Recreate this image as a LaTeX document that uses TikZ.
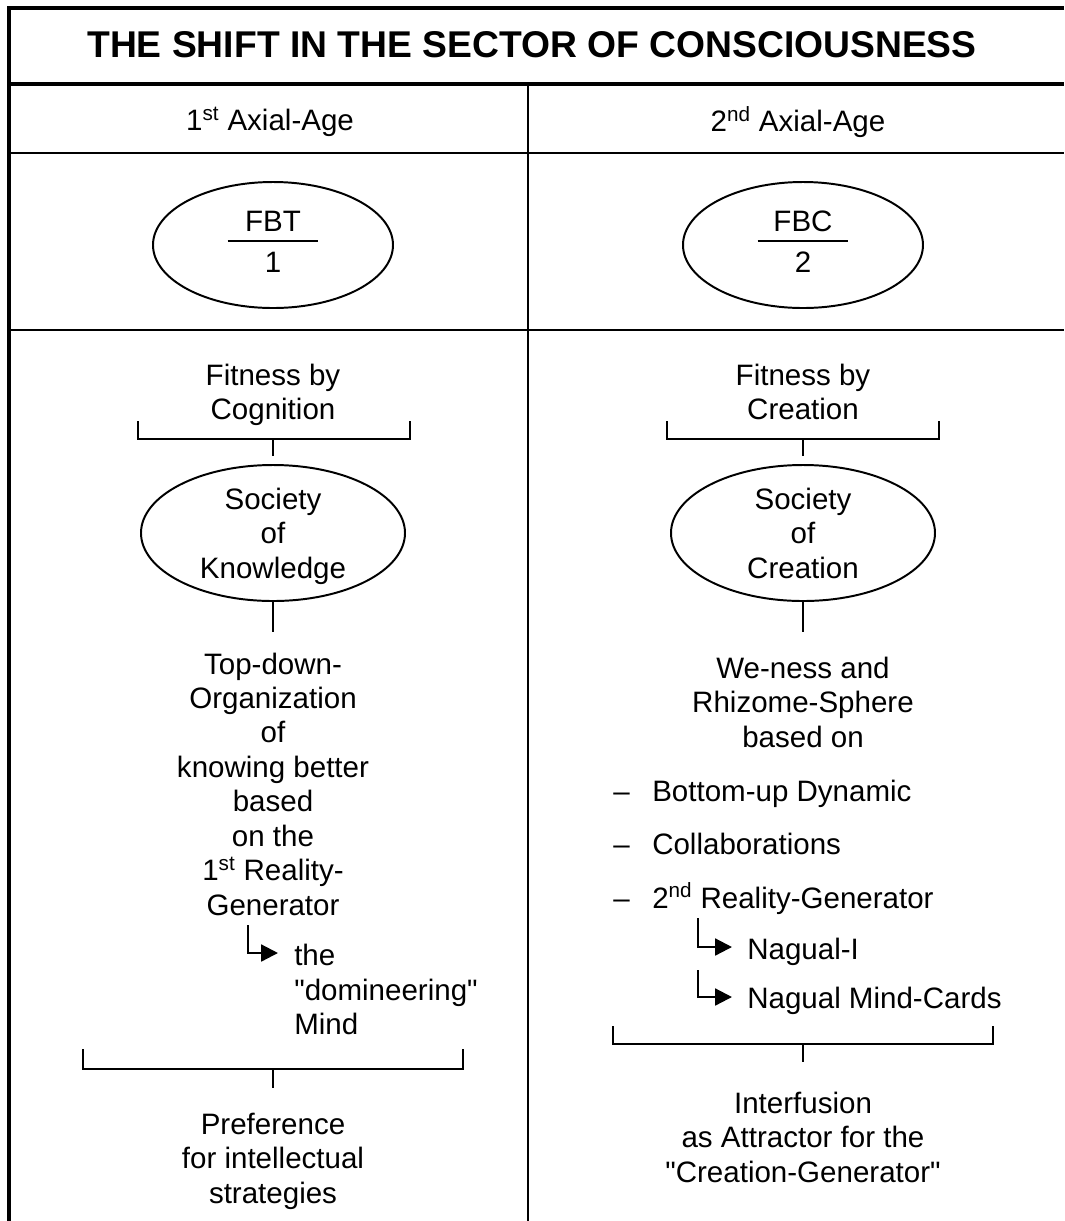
\documentclass[tikz,border=0pt]{standalone}
\usepackage{fontspec}
\setmainfont{Liberation Sans}
\usetikzlibrary{shapes.geometric}
\usetikzlibrary{arrows.meta}
\newcommand{\nodepth}[1]{\raisebox{0pt}[\height][0pt]{#1}}
\tikzset{oval/.style={ellipse,draw,line width=1.4pt,inner sep=0pt},
 txt/.style={align=center,inner sep=0pt},
 lft/.style={align=left,inner sep=0pt,anchor=west},
 rule/.style={line width=1.4pt},
 frame/.style={line width=2.8pt},
 turn/.style={line width=1.6pt,-{Triangle[length=0.42cm,width=0.42cm]}},
 }

\begin{document}
\begin{tikzpicture}[y=-1cm,font=\fontsize{21}{24.5}\selectfont]
        \useasboundingbox (0,0) rectangle (26.6,30.525);
        % table lines
        \draw[frame] (26.6,0.19) -- (0.225,0.19) -- (0.225,30.525);
        \draw[frame] (0.225,2.09) -- (26.6,2.09);
        \draw[rule] (0.225,3.825) -- (26.6,3.825);
        \draw[rule] (0.225,8.25) -- (26.6,8.25);
        \draw[rule] (13.2,2.09) -- (13.2,30.525);

        \node[txt,font=\fontsize{26.5}{30}\selectfont\bfseries] (title) at (13.3,1.125) {THE SHIFT IN THE SECTOR OF CONSCIOUSNESS};
        \node[txt] (age1) at (6.75,3.05) {1\textsuperscript{st} Axial-Age};
        \node[txt] (age2) at (19.95,3.05) {2\textsuperscript{nd} Axial-Age};

        % fractions
        \node[oval,minimum width=6cm,minimum height=3.15cm] (fbt) at (6.825,6.125) {};
        \node[txt] (fbtup) at (6.825,5.525) {FBT};
        \node[txt] (fbtdn) at (6.825,6.55) {1};
        \draw[rule] (5.69,6.025) -- (7.96,6.025);
        \node[oval,minimum width=6cm,minimum height=3.15cm] (fbc) at (20.075,6.125) {};
        \node[txt] (fbcup) at (20.075,5.525) {FBC};
        \node[txt] (fbcdn) at (20.075,6.55) {2};
        \draw[rule] (18.94,6.025) -- (21.21,6.025);

        % 1st axial age
        \node[txt] (fit1) at (6.825,9.8) {Fitness by\\\nodepth{Cognition}};
        \draw[rule] (3.45,10.525) |- (10.25,10.975) -- (10.25,10.525);
        \node[oval,minimum width=6.6cm,minimum height=3.4cm,align=center] (soc1) at (6.825,13.325) {Society\\of\\\nodepth{Knowledge}};
        \draw[rule] (6.825,10.975) -- ([yshift=0.2cm]soc1.north);
        \draw[rule] (soc1.south) -- ++(0,0.75);
        \node[txt] (knw) at (6.825,19.6) {Top-down-\\Organization\\of\\knowing better\\based\\on the\\1\textsuperscript{st} Reality-\\Generator};
        \coordinate (gen1) at (6.2,23.125);
        \coordinate (the1) at (6.95,23.825);
        \draw[turn] (gen1) |- (the1);
        \node[lft] (mind) at (7.35,24.74) {the\\\textquotedbl domineering\textquotedbl\\Mind};
        \draw[rule] (2.075,26.225) |- (11.575,26.725) -- (11.575,26.225);
        \draw[rule] (6.825,26.725) -- ++(0,0.475);
        \node[txt] (pref) at (6.825,29.03) {Preference\\for intellectual\\strategies};

        % 2nd axial age
        \node[txt] (fit2) at (20.075,9.8) {Fitness by\\Creation};
        \draw[rule] (16.675,10.525) |- (23.475,10.975) -- (23.475,10.525);
        \node[oval,minimum width=6.6cm,minimum height=3.4cm,align=center] (soc2) at (20.075,13.325) {Society\\of\\Creation};
        \draw[rule] (20.075,10.975) -- ([yshift=0.2cm]soc2.north);
        \draw[rule] (soc2.south) -- ++(0,0.75);
        \node[txt] (wen) at (20.075,17.55) {We-ness and\\Rhizome-Sphere\\based on};
        \node[lft,anchor=base west] (dyn) at (15.325,20.025) {\makebox[0.975cm][l]{–}Bottom-up Dynamic};
        \node[lft,anchor=base west] (col) at (15.325,21.35) {\makebox[0.975cm][l]{–}Collaborations};
        \node[lft,anchor=base west] (gen2) at (15.325,22.7) {\makebox[0.975cm][l]{–}2\textsuperscript{nd} Reality-Generator};
        \coordinate (nag1s) at (17.45,22.95);
        \coordinate (nag1e) at (18.3,23.675);
        \draw[turn] (nag1s) |- (nag1e);
        \node[lft,anchor=base west] (nag1) at (18.675,23.975) {Nagual-I};
        \coordinate (nag2s) at (17.45,24.25);
        \coordinate (nag2e) at (18.3,24.925);
        \draw[turn] (nag2s) |- (nag2e);
        \node[lft,anchor=base west] (nag2) at (18.675,25.2) {Nagual Mind-Cards};
        \draw[rule] (15.325,25.65) |- (24.825,26.1) -- (24.825,25.65);
        \draw[rule] (20.075,26.1) -- ++(0,0.45);
        \node[txt] (inter) at (20.075,28.425) {Interfusion\\as Attractor for the\\\textquotedbl Creation-Generator\textquotedbl};
\end{tikzpicture}
\end{document}
